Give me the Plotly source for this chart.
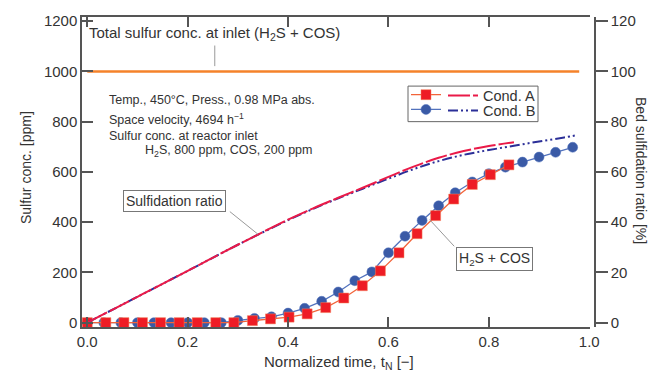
import plotly.graph_objects as go

# ---------------- data ----------------
t_A = [0, 0.037, 0.073, 0.11, 0.146, 0.183, 0.219, 0.256, 0.292, 0.329, 0.365, 0.402,
       0.438, 0.475, 0.511, 0.548, 0.584, 0.621, 0.657, 0.694, 0.73, 0.767, 0.803, 0.84]
ppm_A = [0, 0, 0, 0, 0, 0, 0, 0, 0, 8, 15, 22, 35, 60, 98, 147, 206, 278, 354, 426, 492,
         550, 589, 628]

t_B = [0, 0.033, 0.067, 0.1, 0.133, 0.167, 0.2, 0.233, 0.267, 0.3, 0.333, 0.367, 0.4,
       0.433, 0.467, 0.5, 0.533, 0.567, 0.6, 0.633, 0.667, 0.7, 0.733, 0.767, 0.8, 0.833,
       0.867, 0.9, 0.933, 0.967]
ppm_B = [0, 0, 0, 0, 0, 0, 0, 0, 0, 9, 17, 23, 38, 57, 85, 122, 167, 202, 278, 344, 407,
         465, 517, 560, 593, 619, 639, 659, 678, 698]

t_ratio_A = [0, 0.1, 0.2, 0.3, 0.4, 0.45, 0.5, 0.55, 0.6, 0.65, 0.7, 0.75, 0.8, 0.85]
ratio_A = [0, 10.3, 20.6, 31.0, 41.0, 45.5, 49.7, 53.8, 58.0, 62.1, 65.6, 68.3, 70.3, 71.8]

t_ratio_B = [0, 0.1, 0.2, 0.3, 0.4, 0.45, 0.5, 0.55, 0.6, 0.65, 0.7, 0.75, 0.8, 0.85,
             0.9, 0.95, 0.975]
ratio_B = [0, 10.3, 20.6, 31.0, 40.8, 45.3, 49.5, 53.4, 57.3, 61.1, 64.3, 66.8, 68.7,
           70.4, 72.1, 73.7, 74.6]

t_inlet = [0, 0.98]
ppm_inlet = [1000, 1000]

x_ticks = [0, 0.2, 0.4, 0.6, 0.8, 1.0]
y_ticks = [0, 200, 400, 600, 800, 1000, 1200]
y2_ticks = [0, 20, 40, 60, 80, 100, 120]

FONT = "Arial, Liberation Sans, sans-serif"
AX = "#555555"
TXT = "#333333"

fig = go.Figure()

fig.add_trace(go.Scatter(x=t_inlet, y=ppm_inlet, mode="lines",
                         line=dict(color="#f5822a", width=2.5), showlegend=False,
                         hoverinfo="skip"))

fig.add_trace(go.Scatter(x=t_ratio_B, y=ratio_B, yaxis="y2", mode="lines",
                         line=dict(color="#2b2f98", width=2, shape="spline",
                                   dash="10px,3px,2px,3px,2px,3px"),
                         name="Cond. B", legend="legend4"))
fig.add_trace(go.Scatter(x=t_ratio_A, y=ratio_A, yaxis="y2", mode="lines",
                         line=dict(color="#ea1a48", width=2, dash="22px,3px",
                                   shape="spline"),
                         name="Cond. A", legend="legend2"))

fig.add_trace(go.Scatter(x=t_B, y=ppm_B, mode="lines+markers",
                         line=dict(color="#5272bd", width=1.3),
                         marker=dict(symbol="circle", size=10, color="#3a5aa6",
                                     line=dict(color="#5272bd", width=0.5)),
                         name=" ", legend="legend3"))
fig.add_trace(go.Scatter(x=t_A, y=ppm_A, mode="lines+markers",
                         line=dict(color="#f2643a", width=1.3),
                         marker=dict(symbol="square", size=10, color="#ee1c25",
                                     line=dict(color="#f5825a", width=0.5)),
                         name=" ", legend="legend"))

# ---------------- layout ----------------
L, R, T, B = 82, 69, 13, 60
W, H = 664, 387
PW, PH = W - L - R, H - T - B


def px(x):
    return (x - L) / PW


def py(y):
    return (H - B - y) / PH


annotations = [
    dict(text="Total sulfur conc. at inlet (H<sub>2</sub>S + COS)", x=0.254, y=1152,
         xref="x", yref="y", showarrow=False, font=dict(size=15, color=TXT)),
    dict(text="Temp., 450°C, Press., 0.98 MPa abs.", x=0.039, y=887, xref="x", yref="y",
         xanchor="left", showarrow=False, font=dict(size=12.5, color=TXT)),
    dict(text="Space velocity, 4694 h<sup>−1</sup>", x=0.039, y=812, xref="x", yref="y",
         xanchor="left", showarrow=False, font=dict(size=12.5, color=TXT)),
    dict(text="Sulfur conc. at reactor inlet", x=0.039, y=741, xref="x", yref="y",
         xanchor="left", showarrow=False, font=dict(size=12.5, color=TXT)),
    dict(text="H<sub>2</sub>S, 800 ppm, COS, 200 ppm", x=0.111, y=684, xref="x", yref="y",
         xanchor="left", showarrow=False, font=dict(size=12.5, color=TXT)),
    dict(text="Sulfidation ratio", x=0.173, y=485, xref="x", yref="y", showarrow=False,
         font=dict(size=14, color=TXT), bordercolor="#777777", borderwidth=1,
         borderpad=2, bgcolor="white"),
    dict(text="H<sub>2</sub>S + COS", x=0.811, y=253, xref="x", yref="y", showarrow=False,
         font=dict(size=14, color=TXT), bordercolor="#777777", borderwidth=1,
         borderpad=2, bgcolor="white"),
    dict(text="Sulfur conc. [ppm]", x=px(16), y=py(166), xref="paper", yref="paper",
         textangle=-90, showarrow=False, font=dict(size=14, color=TXT)),
    dict(text="Bed sulfidation ratio [%]", x=px(651), y=py(168), xref="paper",
         yref="paper", textangle=90, showarrow=False, font=dict(size=14, color=TXT)),
    dict(text="Normalized time, t<sub>N</sub> [−]", x=px(339), y=py(375), xref="paper",
         yref="paper", showarrow=False, font=dict(size=15, color=TXT)),
]

shapes = [
    dict(type="line", xref="x", yref="y", x0=0.254, y0=1103, x1=0.254, y1=1021,
         line=dict(color="#999999", width=1)),
    dict(type="line", xref="x", yref="y", x0=0.284, y0=442, x1=0.340, y1=352,
         line=dict(color="#999999", width=1)),
    dict(type="line", xref="x", yref="y", x0=0.731, y0=304, x1=0.682, y1=410,
         line=dict(color="#999999", width=1)),
    dict(type="rect", xref="paper", yref="paper", x0=px(408), x1=px(538), y0=py(119),
         y1=py(83), line=dict(color="#666666", width=1), fillcolor="white", layer="below"),
]


def leg(xp, yp, size):
    return dict(x=px(xp), y=py(yp), xanchor="left", yanchor="top",
                bgcolor="rgba(0,0,0,0)", borderwidth=0,
                font=dict(size=size, color=TXT))


fig.update_layout(
    width=W, height=H,
    margin=dict(l=L, r=R, t=T, b=B),
    paper_bgcolor="white", plot_bgcolor="rgba(0,0,0,0)",
    font=dict(family=FONT, color=TXT, size=15),
    xaxis=dict(domain=[0, (590 - L) / PW], range=[-0.0105, 1.0015], tickvals=x_ticks,
               tickformat=".1f", ticks="inside", ticklen=10, tickwidth=1.5, tickcolor=AX,
               showline=True, linecolor=AX, linewidth=1.5, mirror="ticks",
               showgrid=False, zeroline=False, tickfont=dict(size=15, color=TXT)),
    yaxis=dict(range=[-17.3, 1216.5], tickvals=y_ticks, ticks="inside", ticklen=11,
               tickwidth=1.5, tickcolor=AX, showline=True, linecolor=AX, linewidth=1.5,
               showgrid=False, zeroline=False, tickfont=dict(size=15, color=TXT)),
    yaxis2=dict(range=[-1.73, 121.65], tickvals=y2_ticks, overlaying="y", side="right",
                anchor="free", position=1.0, ticks="outside", ticklen=12, tickwidth=1.5,
                tickcolor=AX, showline=True, linecolor=AX, linewidth=1.5, showgrid=False,
                zeroline=False, tickfont=dict(size=15, color=TXT)),
    legend=leg(406, 76.5, 13),
    legend2=leg(443, 76.5, 14.5),
    legend3=leg(406, 91.5, 13),
    legend4=leg(443, 91.5, 14.5),
    annotations=annotations,
    shapes=shapes,
)

fig.write_html("out.html")
